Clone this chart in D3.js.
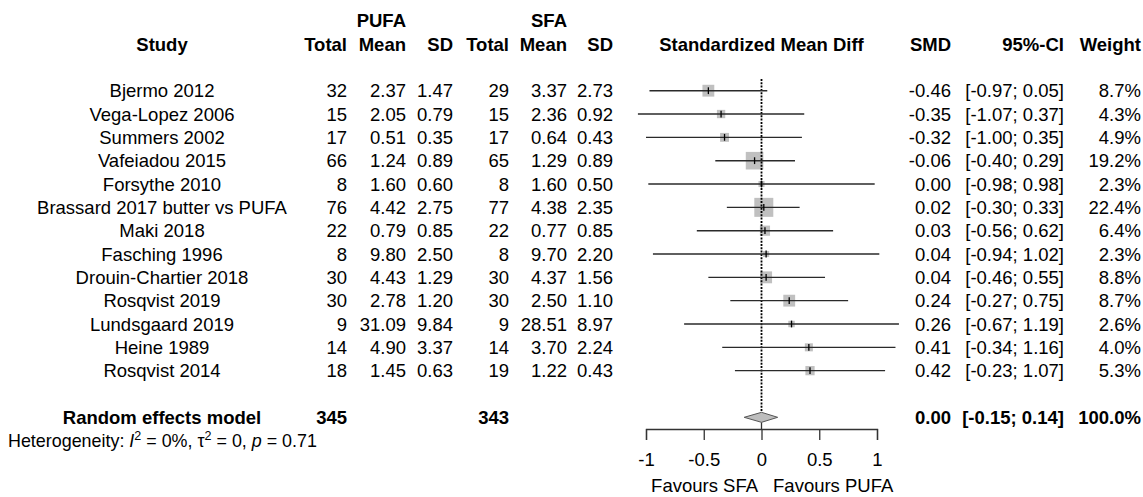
<!DOCTYPE html>
<html>
<head>
<meta charset="utf-8">
<script src="https://cdn.jsdelivr.net/npm/d3@7"></script>
<style>
  body { margin: 0; background: #fff; }
  svg text { font-family: "Liberation Sans", Arial, sans-serif; fill: #000; }
</style>
</head>
<body>
<div class="chart"></div>
<script>
// data
const studies = ["Bjermo 2012", "Vega-Lopez 2006", "Summers 2002", "Vafeiadou 2015", "Forsythe 2010",
  "Brassard 2017 butter vs PUFA", "Maki 2018", "Fasching 1996", "Drouin-Chartier 2018", "Rosqvist 2019",
  "Lundsgaard 2019", "Heine 1989", "Rosqvist 2014"]
const pufaTotal = [32, 15, 17, 66, 8, 76, 22, 8, 30, 30, 9, 14, 18]
const pufaMean = [2.37, 2.05, 0.51, 1.24, 1.60, 4.42, 0.79, 9.80, 4.43, 2.78, 31.09, 4.90, 1.45]
const pufaSD = [1.47, 0.79, 0.35, 0.89, 0.60, 2.75, 0.85, 2.50, 1.29, 1.20, 9.84, 3.37, 0.63]
const sfaTotal = [29, 15, 17, 65, 8, 77, 22, 8, 30, 30, 9, 14, 19]
const sfaMean = [3.37, 2.36, 0.64, 1.29, 1.60, 4.38, 0.77, 9.70, 4.37, 2.50, 28.51, 3.70, 1.22]
const sfaSD = [2.73, 0.92, 0.43, 0.89, 0.50, 2.35, 0.85, 2.20, 1.56, 1.10, 8.97, 2.24, 0.43]
const smd = [-0.46, -0.35, -0.32, -0.06, 0.00, 0.02, 0.03, 0.04, 0.04, 0.24, 0.26, 0.41, 0.42]
const ciLow = [-0.97, -1.07, -1.00, -0.40, -0.98, -0.30, -0.56, -0.94, -0.46, -0.27, -0.67, -0.34, -0.23]
const ciHigh = [0.05, 0.37, 0.35, 0.29, 0.98, 0.33, 0.62, 1.02, 0.55, 0.75, 1.19, 1.16, 1.07]
const weight = [8.7, 4.3, 4.9, 19.2, 2.3, 22.4, 6.4, 2.3, 8.8, 8.7, 2.6, 4.0, 5.3]

// pooled random effects result
const pooled = { label: "Random effects model", pufaTotal: 345, sfaTotal: 343, smd: 0.00, lo: -0.15, hi: 0.14, weight: 100.0 }
const hetero = { i2: "0%", tau2: "0", p: "0.71" }

const axisTicks = [-1, -0.5, 0, 0.5, 1]

const w = 1143
const h = 497
const fs = 18.5
const rowH = 23.33
const row0 = 90.7
const rowY = i => row0 + rowH * i

const svg = d3.select(".chart")
  .append("svg")
  .attr("width", w)
  .attr("height", h)
  .style("display", "block")

const xScale = d3.scaleLinear()
  .domain([-1, 1])
  .range([646, 877])

const boxSize = d3.scaleSqrt()
  .domain([0, 22.4])
  .range([0, 19])

const f2 = d3.format(".2f")
const f1 = d3.format(".1f")
const fmtSmd = v => f2(v).replace("−", "-")
const fmtCi = (a, b) => "[" + fmtSmd(a) + "; " + fmtSmd(b) + "]"

// column x positions (right edge unless noted)
const cols = {
  study: 162, pTot: 347, pMean: 406, pSD: 453, sTot: 509, sMean: 567, sSD: 613,
  plot: 761.5, smd: 951, ci: 1064, weight: 1141
}

const addText = (x, y, txt, anchor, bold) => svg.append("text")
  .attr("x", x)
  .attr("y", y + 6.6)
  .attr("text-anchor", anchor)
  .attr("font-size", fs)
  .attr("font-weight", bold ? "bold" : "normal")
  .text(txt)

// headers
addText(cols.pMean, rowY(-3), "PUFA", "end", true)
addText(cols.sMean, rowY(-3), "SFA", "end", true)
addText(cols.study, rowY(-2), "Study", "middle", true)
addText(cols.pTot, rowY(-2), "Total", "end", true)
addText(cols.pMean, rowY(-2), "Mean", "end", true)
addText(cols.pSD, rowY(-2), "SD", "end", true)
addText(cols.sTot, rowY(-2), "Total", "end", true)
addText(cols.sMean, rowY(-2), "Mean", "end", true)
addText(cols.sSD, rowY(-2), "SD", "end", true)
addText(cols.plot, rowY(-2), "Standardized Mean Diff", "middle", true)
addText(cols.smd, rowY(-2), "SMD", "end", true)
addText(cols.ci, rowY(-2), "95%-CI", "end", true)
addText(cols.weight, rowY(-2), "Weight", "end", true)

// study rows
studies.forEach((s, i) => {
  const y = rowY(i)
  addText(cols.study, y, s, "middle")
  addText(cols.pTot, y, pufaTotal[i], "end")
  addText(cols.pMean, y, f2(pufaMean[i]), "end")
  addText(cols.pSD, y, f2(pufaSD[i]), "end")
  addText(cols.sTot, y, sfaTotal[i], "end")
  addText(cols.sMean, y, f2(sfaMean[i]), "end")
  addText(cols.sSD, y, f2(sfaSD[i]), "end")
  addText(cols.smd, y, fmtSmd(smd[i]), "end")
  addText(cols.ci, y, fmtCi(ciLow[i], ciHigh[i]), "end")
  addText(cols.weight, y, f1(weight[i]) + "%", "end")
})

// grey weight boxes
svg.selectAll("rect.box")
  .data(studies)
  .enter()
  .append("rect")
  .attr("class", "box")
  .attr("x", (d, i) => xScale(smd[i]) - boxSize(weight[i]) / 2)
  .attr("y", (d, i) => rowY(i) - boxSize(weight[i]) / 2)
  .attr("width", (d, i) => boxSize(weight[i]))
  .attr("height", (d, i) => boxSize(weight[i]))
  .attr("fill", "#c0c0c0")

// reference line at 0 (dotted)
svg.append("line")
  .attr("x1", xScale(0)).attr("x2", xScale(0))
  .attr("y1", 79).attr("y2", rowY(14) - 5)
  .attr("stroke", "#000")
  .attr("stroke-width", 1.8)
  .attr("stroke-dasharray", "2,1.3")
svg.append("line")
  .attr("x1", xScale(0)).attr("x2", xScale(0))
  .attr("y1", rowY(14) + 5).attr("y2", 429)
  .attr("stroke", "#333")
  .attr("stroke-width", 1.3)

// confidence interval lines
svg.selectAll("line.ci")
  .data(studies)
  .enter()
  .append("line")
  .attr("class", "ci")
  .attr("x1", (d, i) => xScale(ciLow[i]))
  .attr("x2", (d, i) => xScale(ciHigh[i]))
  .attr("y1", (d, i) => rowY(i))
  .attr("y2", (d, i) => rowY(i))
  .attr("stroke", "#2a2a2a")
  .attr("stroke-width", 1.4)

// point estimate tick inside each box
svg.selectAll("line.est")
  .data(studies)
  .enter()
  .append("line")
  .attr("class", "est")
  .attr("x1", (d, i) => xScale(smd[i]))
  .attr("x2", (d, i) => xScale(smd[i]))
  .attr("y1", (d, i) => rowY(i) - 3.4)
  .attr("y2", (d, i) => rowY(i) + 3.4)
  .attr("stroke", "#000")
  .attr("stroke-width", 1.3)

// pooled row
const py = rowY(14)
addText(cols.study, py, pooled.label, "middle", true)
addText(cols.pTot, py, pooled.pufaTotal, "end", true)
addText(cols.sTot, py, pooled.sfaTotal, "end", true)
addText(cols.smd, py, fmtSmd(pooled.smd), "end", true)
addText(cols.ci, py, fmtCi(pooled.lo, pooled.hi), "end", true)
addText(cols.weight, py, f1(pooled.weight) + "%", "end", true)

svg.append("polygon")
  .attr("points", [
    [xScale(pooled.lo), py], [xScale(pooled.smd), py - 5],
    [xScale(pooled.hi), py], [xScale(pooled.smd), py + 5]
  ].map(p => p.join(",")).join(" "))
  .attr("fill", "#bdbdbd")
  .attr("stroke", "#555")
  .attr("stroke-width", 1)

// heterogeneity line
const het = svg.append("text")
  .attr("x", 8)
  .attr("y", rowY(15) + 6.4)
  .attr("font-size", 17.9)
het.append("tspan").text("Heterogeneity: ")
het.append("tspan").attr("font-style", "italic").text("I")
het.append("tspan").attr("font-size", 12.5).attr("dy", -7).text("2")
het.append("tspan").attr("dy", 7).text(" = " + hetero.i2 + ", \u03c4")
het.append("tspan").attr("font-size", 12.5).attr("dy", -7).text("2")
het.append("tspan").attr("dy", 7).text(" = " + hetero.tau2 + ", ")
het.append("tspan").attr("font-style", "italic").text("p")
het.append("tspan").text(" = " + hetero.p)

// x axis
const xAxis = d3.axisBottom(xScale)
  .tickValues(axisTicks)
  .tickFormat(d => d3.format("")(d).replace("−", "-"))
  .tickSize(11)
  .tickPadding(13)
const gx = svg.append("g")
  .attr("transform", "translate(0,429)")
  .call(xAxis)
gx.select(".domain").attr("stroke", "#333").attr("stroke-width", 1.3)
gx.selectAll(".tick line").attr("stroke", "#333").attr("stroke-width", 1.3)
gx.selectAll(".tick text")
  .attr("font-size", fs)
  .attr("font-family", "Liberation Sans, Arial, sans-serif")
  .attr("fill", "#000")

// favours labels
svg.append("text")
  .attr("x", xScale(-0.03))
  .attr("y", 492)
  .attr("text-anchor", "end")
  .attr("font-size", fs)
  .text("Favours SFA")
svg.append("text")
  .attr("x", xScale(0.1))
  .attr("y", 492)
  .attr("font-size", fs)
  .text("Favours PUFA")
</script>
</body>
</html>
